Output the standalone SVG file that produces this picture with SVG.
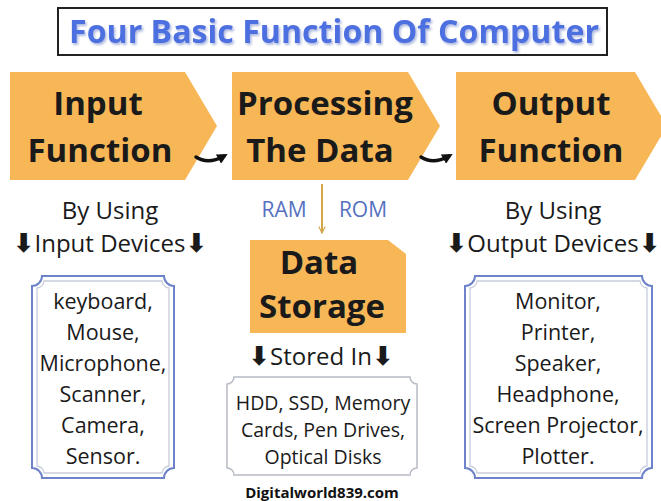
<svg xmlns="http://www.w3.org/2000/svg" width="661" height="501" viewBox="0 0 661 501">
<defs>
<style>
.box{fill:#F8B757}
.big{font-family:"Open Sans","Liberation Sans",sans-serif;font-weight:700;font-size:33px;fill:#1a1a1a;text-anchor:middle}
.mid{font-family:"Open Sans","DejaVu Sans","Liberation Sans",sans-serif;font-size:24px;fill:#1a1a1a;text-anchor:middle}
.ar{font-family:"DejaVu Sans",sans-serif;font-weight:700;font-size:26px}
.lst{font-family:"Open Sans","Liberation Sans",sans-serif;font-size:21.5px;fill:#1a1a1a;text-anchor:middle}
.sm{font-family:"Open Sans","Liberation Sans",sans-serif;font-size:19.5px;fill:#1a1a1a;text-anchor:middle}
.mem{font-family:"Open Sans","Liberation Sans",sans-serif;font-size:21px;fill:#5671bf;text-anchor:middle}
.fo{fill:#fff;stroke:#6e82c9;stroke-width:2}
.fi{fill:none;stroke:#c8cddc;stroke-width:1.3}
.conn{fill:none;stroke:#111;stroke-width:3.5;stroke-linecap:round}
</style>
<filter id="sh" x="-5%" y="-20%" width="110%" height="150%"><feDropShadow dx="1.5" dy="2" stdDeviation="0.8" flood-color="#9aa8d8" flood-opacity="0.8"/></filter>
<marker id="ah" viewBox="0 0 10 10" refX="6" refY="5" markerWidth="3" markerHeight="3" orient="auto"><path d="M0,0 L10,5 L0,10 Z" fill="#111"/></marker>
<marker id="ag" viewBox="0 0 10 10" refX="9" refY="5" markerWidth="8" markerHeight="8" orient="auto" markerUnits="userSpaceOnUse"><path d="M1,1 L9,5 L1,9" fill="none" stroke="#d4a64a" stroke-width="1.5"/></marker>
</defs>
<rect width="661" height="501" fill="#fff"/>
<g id="title">
<rect x="58" y="8" width="549" height="47" fill="#fff" stroke="#222" stroke-width="2"/>
<text x="334" y="43" font-family="'Open Sans','Liberation Sans',sans-serif" font-weight="700" font-size="33" fill="#4e6fe0" text-anchor="middle" textLength="530" lengthAdjust="spacingAndGlyphs" filter="url(#sh)">Four Basic Function Of Computer</text>
</g>
<g id="input">
<path class="box" d="M10,72 H185 L217,126 L185,180 H10 Z"/>
<text class="big" x="98" y="115">Input</text>
<text class="big" x="100" y="162">Function</text>
</g>
<g id="processing">
<path class="box" d="M232,72 H408 L440,126 L408,180 H232 Z"/>
<text class="big" x="325" y="115">Processing</text>
<text class="big" x="320" y="162">The Data</text>
</g>
<g id="output">
<path class="box" d="M456,72 H635 L667,126 L635,180 H456 Z"/>
<text class="big" x="551" y="115">Output</text>
<text class="big" x="551" y="162">Function</text>
</g>
<g id="storage">
<path class="box" d="M250,240 H388 L406,254 V333 H250 Z"/>
<text class="big" x="319" y="274">Data</text>
<text class="big" x="322" y="318">Storage</text>
</g>
<g id="input-devices">
<text class="mid" x="110" y="219">By Using</text>
<text class="mid" x="110" y="252"><tspan class="ar">⬇</tspan>Input Devices<tspan class="ar">⬇</tspan></text>
<path class="fo" d="M42,276 H164 A10,10 0 0 0 174,286 V468 A10,10 0 0 0 164,478 H42 A10,10 0 0 0 32,468 V286 A10,10 0 0 0 42,276 Z"/>
<path class="fi" d="M44,281 H162 A8,8 0 0 0 169,288 V466 A8,8 0 0 0 162,473 H44 A8,8 0 0 0 37,466 V288 A8,8 0 0 0 44,281 Z"/>
<text class="lst" x="103" y="309">keyboard,</text>
<text class="lst" x="103" y="340">Mouse,</text>
<text class="lst" x="103" y="371">Microphone,</text>
<text class="lst" x="103" y="402">Scanner,</text>
<text class="lst" x="103" y="433">Camera,</text>
<text class="lst" x="103" y="464">Sensor.</text>
</g>
<g id="output-devices">
<text class="mid" x="553" y="219">By Using</text>
<text class="mid" x="553" y="252"><tspan class="ar">⬇</tspan>Output Devices<tspan class="ar">⬇</tspan></text>
<path class="fo" d="M475,276 H642 A10,10 0 0 0 652,286 V468 A10,10 0 0 0 642,478 H475 A10,10 0 0 0 465,468 V286 A10,10 0 0 0 475,276 Z"/>
<path class="fi" d="M477,281 H640 A8,8 0 0 0 647,288 V466 A8,8 0 0 0 640,473 H477 A8,8 0 0 0 470,466 V288 A8,8 0 0 0 477,281 Z"/>
<text class="lst" x="558" y="309">Monitor,</text>
<text class="lst" x="558" y="340">Printer,</text>
<text class="lst" x="558" y="371">Speaker,</text>
<text class="lst" x="558" y="402">Headphone,</text>
<text class="lst" x="558" y="433">Screen Projector,</text>
<text class="lst" x="558" y="464">Plotter.</text>
</g>
<g id="stored">
<text class="mid" x="321" y="365"><tspan class="ar">⬇</tspan>Stored In<tspan class="ar">⬇</tspan></text>
<path d="M234,377 H410 A7,7 0 0 0 417,384 V468 A7,7 0 0 0 410,475 H234 A7,7 0 0 0 227,468 V384 A7,7 0 0 0 234,377 Z" fill="#fff" stroke="#b7bbc6" stroke-width="1.5"/>
<text class="sm" x="323" y="410">HDD, SSD, Memory</text>
<text class="sm" x="323" y="437">Cards, Pen Drives,</text>
<text class="sm" x="323" y="464">Optical Disks</text>
</g>
<g id="memory-labels">
<text class="mem" x="284" y="217">RAM</text>
<text class="mem" x="363" y="217">ROM</text>
</g>
<g id="connectors">
<path class="conn" d="M196,157 Q208,165 224,156" marker-end="url(#ah)"/>
<path class="conn" d="M421,157 Q433,165 449,156" marker-end="url(#ah)"/>
<path d="M322,184 V233" stroke="#d4a64a" stroke-width="2" fill="none" marker-end="url(#ag)"/>
</g>
<text x="322" y="498" font-family="'Open Sans','Liberation Sans',sans-serif" font-weight="700" font-size="15" fill="#111" text-anchor="middle">Digitalworld839.com</text>
</svg>
